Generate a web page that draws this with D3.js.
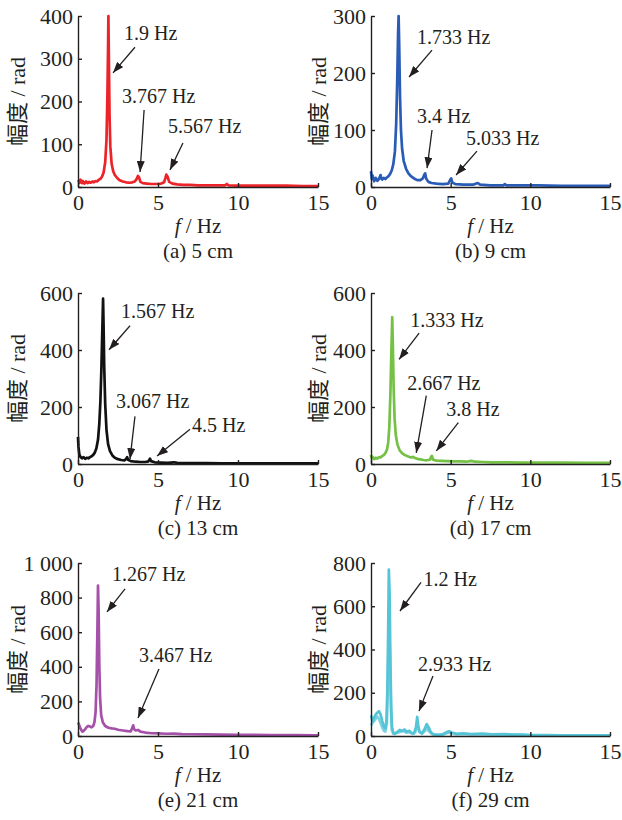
<!DOCTYPE html>
<html lang="zh">
<head>
<meta charset="UTF-8">
<title>幅频曲线</title>
<script src="https://cdnjs.cloudflare.com/ajax/libs/d3/7.8.5/d3.min.js"></script>
<style>
  body { margin: 0; background: #fff; }
  svg text { font-family: "Liberation Serif", "Times New Roman", "Noto Sans CJK SC", serif; fill: #231f20; }
  .axis path, .axis line { stroke: #231f20; stroke-width: 1.4; fill: none; }
  .axis text { font-size: 22px; font-family: "Liberation Serif", serif; }
  .lbl { font-size: 20px; }
  .cap { font-size: 21px; }
  .ylbl { font-size: 22px; font-family: "Liberation Serif", "Noto Sans CJK SC", serif; }
  .spec { fill: none; stroke-width: 2.7; stroke-linejoin: round; }
  .note line { stroke: #231f20; stroke-width: 1.3; }
</style>
</head>
<body>
<script>
// ---- data: [f (Hz), amplitude (rad)] ----
var spec5 = [[0,16],[0.1,10],[0.15,17],[0.25,9],[0.3,14],[0.4,8],[0.5,13],[0.6,9],[0.7,12],[0.8,10],[0.9,13],[1.0,11],[1.1,14],[1.2,13],[1.3,17],[1.4,19],[1.5,24],[1.6,34],[1.7,58],[1.78,110],[1.84,220],[1.88,330],[1.9,400],[1.93,300],[1.97,170],[2.02,95],[2.1,55],[2.2,37],[2.3,28],[2.45,21],[2.6,16],[2.8,13],[3.0,11],[3.2,10],[3.4,11],[3.55,13],[3.67,19],[3.75,26],[3.82,22],[3.9,12],[4.05,9],[4.3,8],[4.6,7],[4.9,7],[5.2,8],[5.38,11],[5.47,22],[5.52,29],[5.6,24],[5.7,12],[5.9,8],[6.2,6],[6.6,5],[7.0,5],[7.5,4],[8.0,4],[8.6,4],[9.2,4],[9.3,7],[9.4,4],[10,3],[11,3],[12,3],[13,3],[14,2],[15,2]];
var spec9 = [[0,28],[0.05,14],[0.1,20],[0.2,10],[0.3,16],[0.4,11],[0.5,14],[0.6,21],[0.65,15],[0.7,13],[0.8,16],[0.9,14],[1.0,17],[1.1,19],[1.2,23],[1.3,29],[1.4,40],[1.5,62],[1.58,110],[1.64,180],[1.7,270],[1.733,300],[1.77,250],[1.82,160],[1.88,100],[1.95,68],[2.05,46],[2.2,32],[2.35,24],[2.5,19],[2.7,15],[2.9,12],[3.1,12],[3.25,15],[3.35,22],[3.4,24],[3.46,15],[3.6,9],[3.8,7],[4.1,6],[4.5,5],[4.85,6],[4.98,13],[5.03,15],[5.1,8],[5.3,5],[5.8,4],[6.4,4],[6.7,7],[6.85,4],[7.5,3],[8.3,3],[8.4,5],[8.5,3],[9.5,3],[10.5,3],[12,2],[13.5,2],[15,2]];
var spec13 = [[0,95],[0.03,60],[0.08,35],[0.15,25],[0.25,20],[0.35,24],[0.45,18],[0.55,22],[0.65,20],[0.75,24],[0.85,27],[0.95,32],[1.05,40],[1.15,55],[1.25,85],[1.33,140],[1.4,220],[1.46,330],[1.52,470],[1.567,580],[1.6,480],[1.64,340],[1.7,210],[1.78,120],[1.88,70],[2.0,45],[2.15,30],[2.3,22],[2.5,17],[2.7,14],[2.9,13],[3.0,17],[3.07,24],[3.13,15],[3.3,10],[3.6,8],[3.9,7],[4.2,7],[4.4,9],[4.5,19],[4.56,10],[4.8,6],[5.2,5],[5.6,4],[6.0,6],[6.2,4],[7,3],[8,3],[9,2],[10,2],[12,2],[15,2]];
var spec17 = [[0,32],[0.05,20],[0.1,25],[0.2,17],[0.3,22],[0.4,19],[0.5,24],[0.6,23],[0.7,28],[0.8,31],[0.9,38],[1.0,50],[1.08,75],[1.15,130],[1.22,250],[1.28,400],[1.333,515],[1.37,420],[1.42,270],[1.48,160],[1.56,100],[1.66,68],[1.8,48],[1.95,38],[2.1,32],[2.3,27],[2.5,23],[2.65,25],[2.72,22],[2.9,18],[3.1,16],[3.3,14],[3.5,13],[3.7,15],[3.78,26],[3.82,28],[3.9,15],[4.1,12],[4.4,11],[4.8,10],[5.2,9],[5.6,9],[6.0,8],[6.3,11],[6.5,8],[7,7],[7.6,6],[8.5,6],[9.5,5],[10.5,5],[12,5],[13.5,4],[15,4]];
var spec21 = [[0,78],[0.05,70],[0.12,50],[0.2,35],[0.28,25],[0.35,30],[0.45,40],[0.55,52],[0.65,58],[0.75,55],[0.85,50],[0.95,58],[1.03,80],[1.1,140],[1.16,300],[1.21,600],[1.25,870],[1.29,720],[1.33,420],[1.38,220],[1.45,120],[1.55,80],[1.7,58],[1.9,48],[2.1,44],[2.3,42],[2.5,36],[2.8,32],[3.1,28],[3.3,27],[3.38,45],[3.45,62],[3.5,40],[3.6,32],[3.75,35],[3.9,25],[4.2,20],[4.6,16],[5.0,15],[5.5,13],[6.0,14],[6.5,11],[7.0,10],[8,9],[9,8],[10,7],[11,6],[12,5],[13.5,5],[15,4]];
var spec29 = [[0,95],[0.1,70],[0.2,85],[0.3,100],[0.4,108],[0.5,115],[0.6,100],[0.7,70],[0.8,45],[0.9,35],[0.97,70],[1.03,220],[1.08,500],[1.12,770],[1.17,650],[1.22,330],[1.27,130],[1.32,40],[1.4,15],[1.5,10],[1.65,18],[1.8,28],[1.95,22],[2.1,30],[2.25,20],[2.4,24],[2.55,14],[2.7,12],[2.82,40],[2.9,88],[2.96,50],[3.05,18],[3.2,12],[3.35,30],[3.5,55],[3.62,40],[3.75,18],[3.9,8],[4.2,5],[4.5,8],[4.75,18],[4.9,22],[5.1,15],[5.4,10],[5.8,12],[6.3,9],[7.0,11],[7.6,8],[8.3,9],[9,6],[9.5,7],[10,4],[11,4],[12,3],[13.5,3],[15,3]];
var spec29b = [[0,50],[0.1,60],[0.2,70],[0.3,80],[0.4,90],[0.5,80],[0.6,60],[0.7,40],[0.8,25],[0.9,20],[1.0,60],[1.05,210],[1.1,400],[1.15,500],[1.2,330],[1.25,120],[1.3,30],[1.4,10],[1.6,15],[1.8,18],[2.0,25],[2.2,15],[2.4,18],[2.6,10],[2.8,20],[2.9,60],[3.0,25],[3.2,10],[3.4,25],[3.5,40],[3.6,25],[3.8,10],[4.1,4],[4.5,6],[4.8,14],[5.0,15],[5.3,8],[6,8],[7,7],[8,6],[9,5],[10,3],[12,3],[15,2]];

var captions = ["(a) 5 cm", "(b) 9 cm", "(c) 13 cm", "(d) 17 cm", "(e) 21 cm", "(f) 29 cm"];
var yMax = [400, 300, 600, 600, 1000, 800];
var yTicks = [[0,100,200,300,400],[0,100,200,300],[0,200,400,600],[0,200,400,600],[0,200,400,600,800,1000],[0,200,400,600,800]];
var xTicks = [0, 5, 10, 15];
var peakLabels = [
  ["1.9 Hz", "3.767 Hz", "5.567 Hz"],
  ["1.733 Hz", "3.4 Hz", "5.033 Hz"],
  ["1.567 Hz", "3.067 Hz", "4.5 Hz"],
  ["1.333 Hz", "2.667 Hz", "3.8 Hz"],
  ["1.267 Hz", "3.467 Hz"],
  ["1.2 Hz", "2.933 Hz"]
];
var spectra = [[spec5], [spec9], [spec13], [spec17], [spec21], [spec29b, spec29]];
var colors = ["#ec2329", "#2a5cb6", "#111111", "#74c145", "#a651a9", "#54c4d6"];

// ---- layout ----
var W = 622, H = 820;
var colX = [78, 371], colW = [240, 239], labX = [17, 318];
var rowY = [16, 293, 563], rowH = [171, 171, 173];

// arrow placement in data units: tip, tail, text anchor
var arrowPos = [
  [{tip:[2.19,267], tail:[3.56,327], text:[2.88,344]}, {tip:[3.88,35], tail:[4.13,180], text:[2.75,196]}, {tip:[5.75,40], tail:[6.56,103], text:[5.63,126]}],
  [{tip:[2.39,193], tail:[3.83,240], text:[2.89,251]}, {tip:[3.52,33], tail:[3.83,100], text:[2.89,112]}, {tip:[5.34,21], tail:[6.65,63], text:[5.96,74]}],
  [{tip:[1.94,401], tail:[3.25,485], text:[2.69,513]}, {tip:[3.25,17], tail:[3.56,167], text:[2.38,195]}, {tip:[4.94,28], tail:[7.0,122], text:[7.13,112]}],
  [{tip:[1.76,367], tail:[3.02,459], text:[2.46,480]}, {tip:[2.84,39], tail:[3.47,240], text:[2.27,258]}, {tip:[4.1,46], tail:[5.48,145], text:[4.73,169]}],
  [{tip:[1.81,717], tail:[2.94,850], text:[2.13,896]}, {tip:[3.75,104], tail:[5.06,387], text:[3.81,428]}],
  [{tip:[1.82,578], tail:[3.14,710], text:[3.3,693]}, {tip:[3.01,115], tail:[3.89,277], text:[2.95,300]}]
];

var svg = d3.select("body").append("svg")
  .attr("width", W).attr("height", H);

svg.append("defs").append("marker")
  .attr("id", "arr")
  .attr("markerUnits", "userSpaceOnUse")
  .attr("viewBox", "0 0 11 8")
  .attr("refX", 11).attr("refY", 4)
  .attr("markerWidth", 11).attr("markerHeight", 8)
  .attr("orient", "auto")
  .append("path").attr("d", "M0,0 L11,4 L0,8 Z").attr("fill", "#231f20");

var fmt = function(v){
  // thousands separated by a space, like "1 000"
  return v >= 1000 ? d3.format(",")(v).replace(",", " ") : String(v);
};

captions.forEach(function(cap, i){
  var c = i % 2, r = Math.floor(i / 2);
  var w = colW[c], h = rowH[r];
  var g = svg.append("g").attr("transform", "translate(" + colX[c] + "," + rowY[r] + ")");

  var x = d3.scaleLinear().domain([0, 15]).range([0, w]);
  var y = d3.scaleLinear().domain([0, yMax[i]]).range([h, 0]);

  var line = d3.line().x(function(d){ return x(d[0]); }).y(function(d){ return y(d[1]); });

  g.selectAll("path.spec").data(spectra[i]).enter()
    .append("path").attr("class", "spec")
    .attr("d", line)
    .attr("stroke", colors[i])
    .attr("stroke-opacity", function(d, k){ return spectra[i].length > 1 && k == 0 ? 0.75 : 1; });

  g.append("g").attr("class", "axis")
    .attr("transform", "translate(0," + h + ")")
    .call(d3.axisBottom(x).tickValues(xTicks).tickSizeInner(-4).tickSizeOuter(0).tickPadding(7));

  g.append("g").attr("class", "axis")
    .call(d3.axisLeft(y).tickValues(yTicks[i]).tickFormat(fmt).tickSizeInner(-4).tickSizeOuter(0).tickPadding(5));

  g.selectAll(".axis text").attr("fill", "#231f20");

  // axis titles
  var xt = g.append("text").attr("class", "cap")
    .attr("x", w / 2).attr("y", h + 46).attr("text-anchor", "middle");
  xt.append("tspan").attr("font-style", "italic").text("f");
  xt.append("tspan").text(" / Hz");

  g.append("text").attr("class", "cap")
    .attr("x", w / 2).attr("y", h + 71).attr("text-anchor", "middle")
    .text(cap);

  svg.append("text").attr("class", "ylbl")
    .attr("transform", "translate(" + labX[c] + "," + (rowY[r] + h / 2) + ") rotate(-90)")
    .attr("text-anchor", "middle").attr("dy", "0.35em")
    .text("幅度 / rad");

  // peak annotations
  var notes = g.selectAll("g.note").data(peakLabels[i]).enter()
    .append("g").attr("class", "note");
  notes.append("line")
    .attr("x1", function(d, k){ return x(arrowPos[i][k].tail[0]); })
    .attr("y1", function(d, k){ return y(arrowPos[i][k].tail[1]); })
    .attr("x2", function(d, k){ return x(arrowPos[i][k].tip[0]); })
    .attr("y2", function(d, k){ return y(arrowPos[i][k].tip[1]); })
    .attr("marker-end", "url(#arr)");
  notes.append("text").attr("class", "lbl")
    .attr("x", function(d, k){ return x(arrowPos[i][k].text[0]); })
    .attr("y", function(d, k){ return y(arrowPos[i][k].text[1]); })
    .text(function(d){ return d; });
});
</script>
</body>
</html>
